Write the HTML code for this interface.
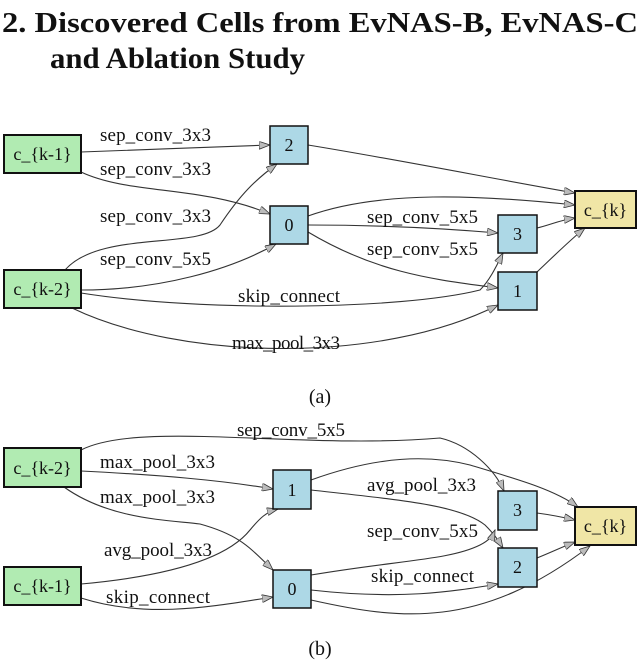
<!DOCTYPE html>
<html><head><meta charset="utf-8"><style>
html,body{margin:0;padding:0;background:#fff;}
svg{display:block;}
text{font-family:"Liberation Serif",serif;fill:#111;}
</style></head><body>
<svg width="640" height="663" viewBox="0 0 640 663" xmlns="http://www.w3.org/2000/svg">
<defs>
<marker id="a" markerWidth="12" markerHeight="8" refX="11" refY="4" orient="auto" markerUnits="userSpaceOnUse">
<path d="M0,0 L11,4 L0,8 Z" fill="#bbb" stroke="#333" stroke-width="0.8"/>
</marker>
</defs>
<text x="2" y="32" font-size="29" font-weight="bold" textLength="636" lengthAdjust="spacingAndGlyphs">2. Discovered Cells from EvNAS-B, EvNAS-C</text>
<text x="50" y="68" font-size="30" font-weight="bold" textLength="255" lengthAdjust="spacingAndGlyphs">and Ablation Study</text>

<g fill="none" stroke="#333" stroke-width="1.1" marker-end="url(#a)">
<path d="M81,152 C150,150 200,147 270,145"/>
<path d="M81,172 C130,195 200,185 270,214"/>
<path d="M65,270 C100,230 200,250 220,225 C240,195 255,180 277,164"/>
<path d="M81,290 C160,290 230,270 276,244"/>
<path d="M81,293 C200,312 400,310 480,290 C490,280 497,265 503,253"/>
<path d="M72,308 C180,360 380,365 498,305"/>
<path d="M308,145 C400,160 500,180 575,193"/>
<path d="M308,216 C380,190 480,195 575,205"/>
<path d="M308,225 C380,225 440,228 498,233"/>
<path d="M308,232 C380,275 440,280 498,288"/>
<path d="M537,228 C550,225 560,220 575,218"/>
<path d="M537,272 C555,255 570,240 585,228"/>
<path d="M81,450 C140,420 300,450 440,438 C470,445 495,470 504,491"/>
<path d="M81,471 C160,475 220,480 273,489"/>
<path d="M64,487 C110,520 170,520 200,524 C240,535 250,548 273,570"/>
<path d="M81,584 C180,575 230,555 250,530 C260,518 266,512 278,509"/>
<path d="M81,598 C150,620 220,605 273,597"/>
<path d="M311,480 C380,455 430,455 470,465 C520,480 555,490 578,507"/>
<path d="M311,490 C400,500 460,505 485,525 C495,535 498,540 503,548"/>
<path d="M311,575 C400,560 450,560 480,545 C490,540 493,535 495,530"/>
<path d="M311,590 C400,600 450,592 498,584"/>
<path d="M311,600 C400,620 480,630 590,546"/>
<path d="M537,513 C552,515 562,517 575,520"/>
<path d="M537,558 C552,552 562,547 575,542"/>
</g>

<g stroke="#111" stroke-width="2">
<rect x="4" y="135" width="77" height="38" fill="#b1ebb2"/>
<rect x="4" y="270" width="77" height="38" fill="#b1ebb2"/>
<rect x="575" y="191" width="61" height="37" fill="#f0e6a6"/>
<rect x="4" y="448" width="77" height="39" fill="#b1ebb2"/>
<rect x="4" y="567" width="77" height="38" fill="#b1ebb2"/>
<rect x="575" y="507" width="61" height="38" fill="#f0e6a6"/>
</g>
<g stroke="#111" stroke-width="1.5" fill="#add8e6">
<rect x="270" y="126" width="38" height="38"/>
<rect x="270" y="206" width="38" height="38"/>
<rect x="498" y="215" width="39" height="38"/>
<rect x="498" y="272" width="39" height="38"/>
<rect x="273" y="470" width="38" height="39"/>
<rect x="273" y="570" width="38" height="38"/>
<rect x="498" y="491" width="39" height="39"/>
<rect x="498" y="548" width="39" height="39"/>
</g>

<g font-size="18" text-anchor="middle">
<text x="42.5" y="160">c_{k-1}</text>
<text x="42.5" y="295">c_{k-2}</text>
<text x="605.5" y="216">c_{k}</text>
<text x="289" y="151">2</text>
<text x="289" y="231">0</text>
<text x="517.5" y="240">3</text>
<text x="517.5" y="297">1</text>
<text x="42.5" y="474">c_{k-2}</text>
<text x="42.5" y="592">c_{k-1}</text>
<text x="605.5" y="532">c_{k}</text>
<text x="292" y="496">1</text>
<text x="292" y="595">0</text>
<text x="517.5" y="516">3</text>
<text x="517.5" y="573">2</text>
</g>
<g font-size="19" lengthAdjust="spacingAndGlyphs">
<text x="100" y="141" textLength="111">sep_conv_3x3</text>
<text x="100" y="175" textLength="111">sep_conv_3x3</text>
<text x="100" y="222" textLength="111">sep_conv_3x3</text>
<text x="100" y="265" textLength="111">sep_conv_5x5</text>
<text x="238" y="302" textLength="102">skip_connect</text>
<text x="232" y="349" textLength="108">max_pool_3x3</text>
<text x="367" y="223" textLength="111">sep_conv_5x5</text>
<text x="367" y="255" textLength="111">sep_conv_5x5</text>

<text x="237" y="436" textLength="108">sep_conv_5x5</text>
<text x="100" y="468" textLength="115">max_pool_3x3</text>
<text x="100" y="503" textLength="115">max_pool_3x3</text>
<text x="104" y="556" textLength="108">avg_pool_3x3</text>
<text x="106" y="603" textLength="104">skip_connect</text>
<text x="367" y="491" textLength="109">avg_pool_3x3</text>
<text x="367" y="537" textLength="111">sep_conv_5x5</text>
<text x="371" y="582" textLength="103">skip_connect</text>
</g>
<g font-size="20" text-anchor="middle">
<text x="320" y="403">(a)</text>
<text x="320" y="655">(b)</text>
</g>
</svg>
</body></html>
